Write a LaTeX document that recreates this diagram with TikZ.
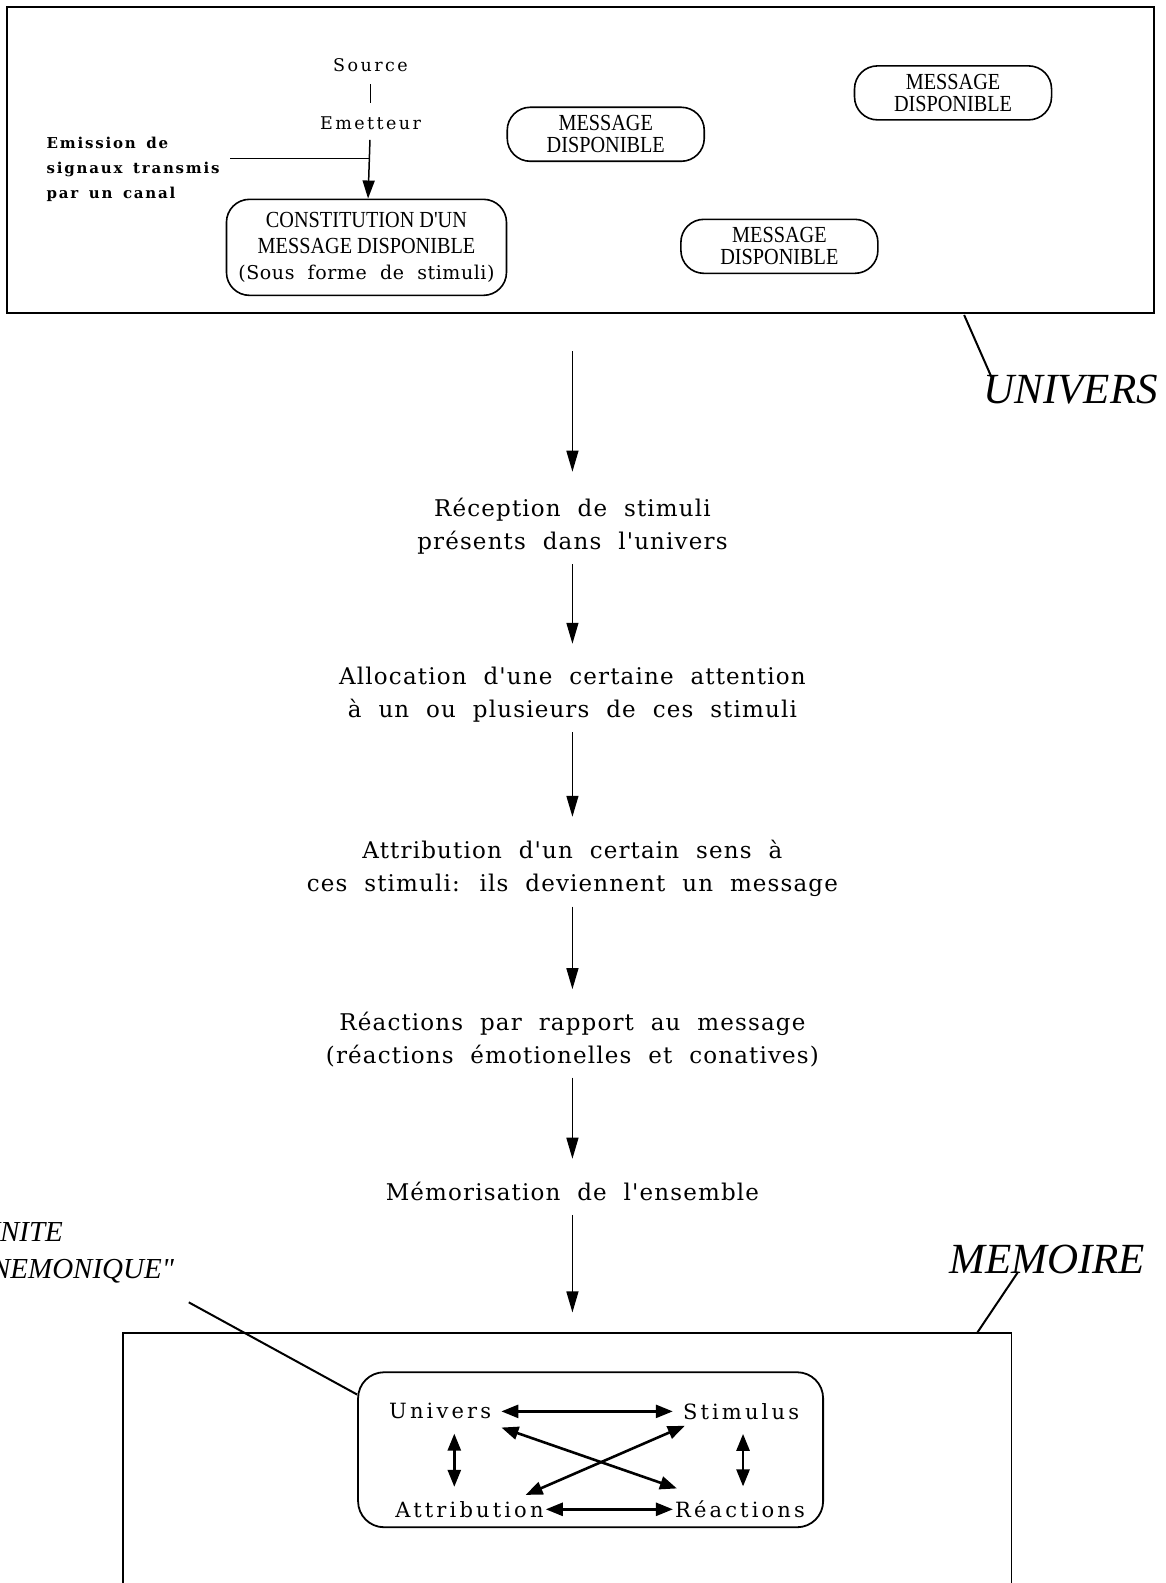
\documentclass[tikz,border=0pt]{standalone}
\usepackage{fontspec}
\setmainfont{Liberation Serif}
\newfontfamily\dv{DejaVu Serif}[LetterSpace=5,WordSpace=2]
\newfontfamily\dvc{DejaVu Serif}[LetterSpace=3,WordSpace=2]
\newfontfamily\dvs{DejaVu Serif}[LetterSpace=14,WordSpace=1.5]
\newfontfamily\dvb{DejaVu Serif}[LetterSpace=12,WordSpace=1.5]
\newfontfamily\dvi{DejaVu Serif}[LetterSpace=15]
\newfontfamily\capf{Liberation Serif}[FakeStretch=0.88]
\newfontfamily\libf{Liberation Serif}
\usetikzlibrary{arrows.meta,calc}
\begin{document}
\begin{tikzpicture}[x=1.0095pt, y=-1.0095pt,
 every node/.style={inner sep=0pt},
 arr/.style={-{Triangle[length=21pt,width=12pt]}, line width=1.3pt},
 darr/.style={{Triangle[length=17pt,width=13pt]}-{Triangle[length=17pt,width=13pt]}, line width=2.6pt},
 msg/.style={draw, line width=1.6pt, rounded corners=23pt, minimum width=197pt, minimum height=54pt, align=center, font=\capf\fontsize{23}{22}\selectfont},
 flow/.style={align=center, font=\dv\fontsize{23}{33}\selectfont},
 small/.style={font=\dvs\fontsize{17.5}{21}\selectfont},
 inner/.style={font=\dvi\fontsize{21}{26}\selectfont},
 lbl/.style={font=\libf\itshape\fontsize{43}{45}\selectfont},
 lead/.style={line width=2pt},
 frame/.style={line width=1.8pt},
 thinl/.style={line width=1.5pt},
]
\useasboundingbox (0,0) rectangle (1154,1568);

% ---- top box (UNIVERS)
\draw[frame] (7,7) rectangle (1143,310);
\node[small] (src) at (367,65) {Source};
\node[small] (emt) at (367,122) {Emetteur};
\draw[thinl, shorten <=12pt, shorten >=13pt] (src) -- (emt);
\node[font=\dvb\bfseries\fontsize{15}{25}\selectfont, align=left, anchor=west] (emis) at (46,168) {Emission de\\signaux transmis\\par un canal};
\node[msg, minimum width=280pt, minimum height=96pt, font=\capf\fontsize{23}{26}\selectfont] (cons) at (363,245) {CONSTITUTION D'UN\\MESSAGE DISPONIBLE\\{\dvc\fontsize{19}{26}\selectfont (Sous forme de stimuli)}};
\coordinate (jl) at (228,157);
\coordinate (jr) at (366,157);
\draw[thinl] (jl) -- (jr);
\draw[-{Triangle[length=18pt,width=12pt]}, thinl, shorten <=10pt] (emt) -- (cons);
\node[msg] (m1) at (600,133) {MESSAGE\\DISPONIBLE};
\node[msg] (m2) at (944,92) {MESSAGE\\DISPONIBLE};
\node[msg] (m3) at (772,244) {MESSAGE\\DISPONIBLE};
\node[lbl, anchor=west] (univ) at (974,386) {UNIVERS};
\coordinate (ul) at (955,312);
\draw[lead] (ul) -- ($(univ.north west)+(8,2)$);

% ---- flow
\coordinate (a0) at (567,348);
\node[flow] (r1) at (567,521) {Réception de stimuli\\présents dans l'univers};
\node[flow] (r2) at (567,688) {Allocation d'une certaine attention\\à un ou plusieurs de ces stimuli};
\node[flow] (r3) at (567,860) {Attribution d'un certain sens à\\ces stimuli: ils deviennent un message};
\node[flow] (r4) at (567,1030) {Réactions par rapport au message\\(réactions émotionelles et conatives)};
\node[flow] (r5) at (567,1180) {Mémorisation de l'ensemble};
\coordinate (a6) at (567,1300);
\draw[arr, shorten >=26pt] (a0) -- (r1);
\draw[arr, shorten <=10pt, shorten >=23pt] (r1) -- (r2);
\draw[arr, shorten <=10pt, shorten >=23pt] (r2) -- (r3);
\draw[arr, shorten <=10pt, shorten >=23pt] (r3) -- (r4);
\draw[arr, shorten <=10pt, shorten >=23pt] (r4) -- (r5);
\draw[arr, shorten <=14pt] (r5) -- (a6);

% ---- bottom box (MEMOIRE)
\draw[frame] (122,1568) -- (122,1320) -- (1002,1320) -- (1002,1568);
\node[lbl, anchor=west] (mem) at (940,1248) {MEMOIRE};
\coordinate (ms) at (968,1320);
\draw[lead] (ms) -- ($(mem.south west)+(68,-2)$);
\node[font=\libf\itshape\fontsize{29}{37}\selectfont, align=left, anchor=west] (unite) at (-33,1241) {"UNITE\\MNEMONIQUE"};
\node[draw, line width=1.8pt, rounded corners=26pt, minimum width=465pt, minimum height=155pt] (unit) at (585,1436) {};
\coordinate (us) at (187,1290);
\draw[lead] (us) -- ($(unit.north west)+(0,23)$);
\node[inner] (uv) at (436,1398) {Univers};
\node[inner] (st) at (734,1398) {Stimulus};
\node[inner] (at) at (465,1495) {Attribution};
\node[inner] (re) at (733,1495) {Réactions};
\draw[darr, shorten <=10pt, shorten >=10pt] (uv) -- (st);
\draw[darr, shorten <=2pt, shorten >=2pt] (at) -- (re);
\draw[darr] ($(uv.south)+(14,14)$) -- ($(at.north)+(-15,-14)$);
\draw[darr] ($(st.south)+(2,14)$) -- ($(re.north)+(3,-14)$);
\draw[darr] ($(uv.south east)+(10,8)$) -- ($(re.north west)+(2,-12)$);
\draw[darr] ($(at.north east)+(-18,-6)$) -- ($(st.south west)+(2,6)$);
\end{tikzpicture}
\end{document}
